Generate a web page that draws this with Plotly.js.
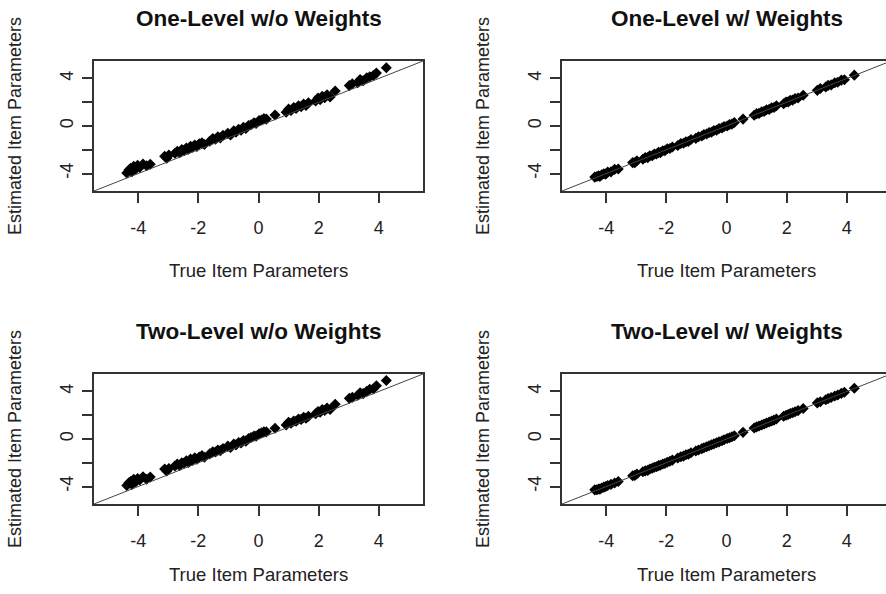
<!DOCTYPE html>
<html>
<head>
<meta charset="utf-8">
<script src="https://cdn.plot.ly/plotly-3.0.1.min.js"></script>
<style>
html, body { margin: 0; padding: 0; background: #fff; overflow: hidden; width: 886px; height: 594px; }
#chart { width: 900px; height: 594px; }
</style>
</head>
<body>
<div id="chart"></div>
<script>
// Panel titles
var panelTitles = ["One-Level w/o Weights", "One-Level w/ Weights", "Two-Level w/o Weights", "Two-Level w/ Weights"];
var xTitle = "True Item Parameters";
var yTitle = "Estimated Item Parameters";

// Tick values / labels
var tickVals = [-4, -2, 0, 2, 4];
var xTickText = ["-4", "-2", "0", "2", "4"];
var yTickText = ["-4", "", "0", "", "4"];

// True item parameters (x)
var trueParams = [-4.38,-4.31,-4.25,-4.21,-4.15,-4.08,-4.02,-3.95,-3.84,-3.72,
  -3.60,-3.12,-3.05,-2.98,-2.78,-2.70,-2.62,-2.55,-2.47,-2.40,
  -2.33,-2.26,-2.20,-2.12,-2.05,-1.97,-1.88,-1.80,-1.62,-1.52,
  -1.43,-1.35,-1.27,-1.18,-1.02,-0.93,-0.82,-0.75,-0.66,-0.58,
  -0.50,-0.42,-0.33,-0.25,-0.15,-0.08,0.02,0.10,0.18,0.26,
  0.55,0.92,1.00,1.08,1.17,1.25,1.33,1.42,1.50,1.58,
  1.66,1.90,1.98,2.05,2.12,2.20,2.28,2.38,2.55,3.02,
  3.12,3.30,3.38,3.48,3.60,3.70,3.82,3.92,4.25];

// Estimated: One-Level w/o Weights
var estOneNoW = [-3.95,-3.70,-3.55,-3.85,-3.40,-3.62,-3.30,-3.48,-3.20,-3.35,
  -3.22,-2.55,-2.72,-2.45,-2.30,-2.12,-2.25,-1.98,-2.05,-1.85,
  -1.95,-1.70,-1.78,-1.60,-1.72,-1.50,-1.42,-1.55,-1.28,-1.05,
  -1.12,-0.90,-1.00,-0.78,-0.62,-0.75,-0.40,-0.52,-0.28,-0.35,
  -0.10,-0.20,0.05,0.10,0.28,0.22,0.45,0.50,0.62,0.58,
  0.92,1.15,1.42,1.30,1.55,1.48,1.70,1.62,1.85,1.72,
  1.95,2.10,2.35,2.22,2.50,2.38,2.62,2.45,2.95,3.40,
  3.55,3.65,3.92,3.80,4.05,4.15,4.25,4.45,4.90];

// Estimated: One-Level w/ Weights
var estOneW = [-4.30,-4.25,-4.18,-4.25,-4.10,-4.02,-4.05,-3.88,-3.86,-3.65,
  -3.62,-3.08,-3.10,-2.92,-2.80,-2.65,-2.66,-2.50,-2.50,-2.35,
  -2.36,-2.22,-2.24,-2.08,-2.08,-1.92,-1.90,-1.76,-1.64,-1.48,
  -1.45,-1.32,-1.30,-1.14,-1.04,-0.90,-0.84,-0.72,-0.68,-0.55,
  -0.52,-0.38,-0.35,-0.22,-0.16,-0.05,0.00,0.13,0.16,0.30,
  0.58,0.90,1.04,1.06,1.20,1.23,1.36,1.40,1.54,1.56,
  1.70,1.88,2.02,2.03,2.16,2.18,2.32,2.36,2.58,3.00,
  3.15,3.28,3.42,3.46,3.64,3.68,3.86,3.90,4.28];

// Estimated: Two-Level w/o Weights
var estTwoNoW = [-3.92,-3.68,-3.58,-3.82,-3.38,-3.60,-3.33,-3.45,-3.18,-3.38,
  -3.20,-2.52,-2.70,-2.48,-2.28,-2.10,-2.22,-2.00,-2.02,-1.83,
  -1.97,-1.68,-1.80,-1.58,-1.70,-1.52,-1.40,-1.53,-1.25,-1.08,
  -1.10,-0.92,-0.98,-0.80,-0.60,-0.72,-0.42,-0.50,-0.30,-0.33,
  -0.12,-0.18,0.03,0.12,0.25,0.24,0.43,0.52,0.60,0.60,
  0.90,1.18,1.40,1.32,1.52,1.50,1.68,1.65,1.82,1.75,
  1.92,2.12,2.32,2.25,2.48,2.40,2.60,2.48,2.92,3.42,
  3.52,3.68,3.90,3.82,4.02,4.18,4.22,4.48,4.92];

// Estimated: Two-Level w/ Weights
var estTwoW = [-4.28,-4.27,-4.20,-4.22,-4.12,-4.05,-4.00,-3.92,-3.82,-3.70,
  -3.58,-3.10,-3.06,-2.95,-2.76,-2.68,-2.64,-2.52,-2.46,-2.38,
  -2.34,-2.24,-2.21,-2.10,-2.06,-1.95,-1.87,-1.78,-1.60,-1.50,
  -1.44,-1.33,-1.28,-1.16,-1.01,-0.92,-0.81,-0.74,-0.65,-0.57,
  -0.49,-0.41,-0.32,-0.24,-0.14,-0.07,0.04,0.11,0.19,0.28,
  0.56,0.93,1.02,1.09,1.18,1.27,1.34,1.43,1.52,1.59,
  1.68,1.91,2.00,2.06,2.14,2.21,2.30,2.39,2.57,3.04,
  3.13,3.31,3.40,3.49,3.62,3.71,3.84,3.93,4.27];

var estimates = [estOneNoW, estOneW, estTwoNoW, estTwoW];

var FONT = "Liberation Sans, Arial, Helvetica, sans-serif";
var axRange = [-5.47, 5.47];
var W = 900, H = 594;
// plot-area pixel boxes [left, right, top, bottom]
var boxes = [[94, 423, 61, 191], [562, 891, 61, 191], [94, 423, 374, 504], [562, 891, 374, 504]];
var xTitleShift = [-79, -79, -70, -70];

var data = [];
var layout = {
  width: W, height: H,
  margin: {l: 0, r: 0, t: 0, b: 0},
  paper_bgcolor: "#fff", plot_bgcolor: "#fff",
  showlegend: false,
  font: {family: FONT, color: "#222", size: 18},
  shapes: [], annotations: []
};

for (var i = 0; i < 4; i++) {
  var sx = i === 0 ? "" : String(i + 1);
  var b = boxes[i];
  data.push({
    type: "scatter", mode: "markers",
    x: trueParams, y: estimates[i],
    xaxis: "x" + sx, yaxis: "y" + sx,
    marker: {symbol: "diamond", size: 8.5, color: "#000"},
    hoverinfo: "x+y"
  });
  var common = {
    range: axRange, showgrid: false, zeroline: false,
    showline: true, mirror: true, linecolor: "#333", linewidth: 1.5,
    ticks: "outside", ticklen: 10, tickwidth: 1.5, tickcolor: "#333",
    tickmode: "array", tickvals: tickVals,
    tickfont: {family: FONT, size: 18, color: "#222"},
    fixedrange: true
  };
  var xa = Object.assign({}, common, {
    domain: [b[0] / W, b[1] / W], anchor: "y" + sx,
    ticktext: xTickText, ticklabelstandoff: 10
  });
  var ya = Object.assign({}, common, {
    domain: [1 - b[3] / H, 1 - b[2] / H], anchor: "x" + sx,
    ticktext: yTickText, tickangle: -90, ticklabelstandoff: 2
  });
  layout["xaxis" + sx] = xa;
  layout["yaxis" + sx] = ya;

  // y = x reference line (corner to corner, equal ranges)
  layout.shapes.push({
    type: "line", xref: "x" + sx + " domain", yref: "y" + sx + " domain",
    x0: 0, y0: 0, x1: 1, y1: 1,
    line: {color: "#444", width: 1}
  });

  // panel title
  layout.annotations.push({
    text: "<b>" + panelTitles[i] + "</b>",
    xref: "x" + sx + " domain", yref: "y" + sx + " domain",
    x: 0.5, y: 1, yshift: 43, xanchor: "center", yanchor: "middle",
    showarrow: false, font: {family: FONT, size: 22.5, color: "#111"}
  });
  // x axis title
  layout.annotations.push({
    text: xTitle,
    xref: "x" + sx + " domain", yref: "y" + sx + " domain",
    x: 0.5, y: 0, yshift: xTitleShift[i], xanchor: "center", yanchor: "middle",
    showarrow: false, font: {family: FONT, size: 18.5, color: "#222"}
  });
  // y axis title
  layout.annotations.push({
    text: yTitle,
    xref: "x" + sx + " domain", yref: "y" + sx + " domain",
    x: 0, y: 0.5, xshift: -79, xanchor: "center", yanchor: "middle",
    textangle: -90,
    showarrow: false, font: {family: FONT, size: 18, color: "#222"}
  });
}

Plotly.newPlot("chart", data, layout, {displayModeBar: false, responsive: false});
</script>
</body>
</html>
